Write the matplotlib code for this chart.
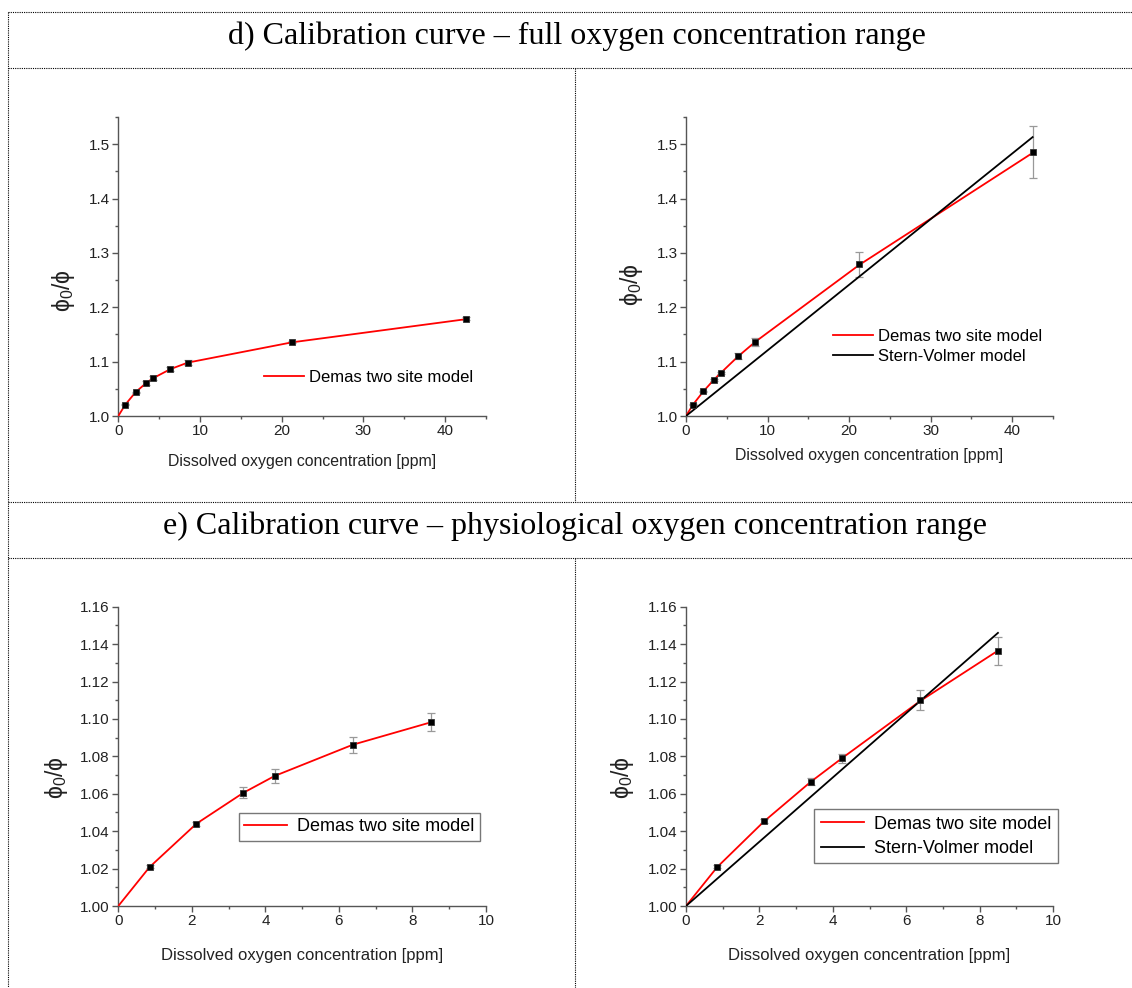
import matplotlib
matplotlib.use("Agg")
import matplotlib.pyplot as plt
from matplotlib.lines import Line2D

# dissolved oxygen levels [ppm]
x_full = [0.85, 2.125, 3.4, 4.25, 6.375, 8.5, 21.25, 42.5]
x_phys = [0.85, 2.125, 3.4, 4.25, 6.375, 8.5]

# d) left / e) left : measured phi0/phi and Demas fit
y_left = [1.0210, 1.0438, 1.0606, 1.0697, 1.0863, 1.0984, 1.1356, 1.1791]
err_left = [0.0008, 0.0012, 0.0030, 0.0037, 0.0043, 0.0050, 0.0020, 0.0030]
fit_x_left = [0, 0.85, 2.125, 3.4, 4.25, 6.375, 8.5, 21.25, 42.5]
fit_y_left = [1.0, 1.0208, 1.0440, 1.0605, 1.0695, 1.0862, 1.0982, 1.1355, 1.1780]

# d) right : measured values, Demas fit and Stern-Volmer fit
y_right = [1.0210, 1.0455, 1.0665, 1.0790, 1.1100, 1.1365, 1.2790, 1.4850]
err_right = [0.0008, 0.0010, 0.0020, 0.0025, 0.0053, 0.0075, 0.0235, 0.0480]
fit_x_right = [0, 0.85, 2.125, 3.4, 4.25, 6.375, 8.5, 21.25, 42.5]
fit_y_right = [1.0, 1.0208, 1.0452, 1.0664, 1.0790, 1.1095, 1.1365, 1.2780, 1.4840]
sv_x_full = [0, 42.5]
sv_y_full = [1.0, 1.513]

# e) right : physiological range fits
fit_x_phys = [0, 0.85, 2.125, 3.4, 4.25, 6.375, 8.5]
fit_y_phys = [1.0, 1.0208, 1.0452, 1.0664, 1.0790, 1.1095, 1.1365]
sv_x_phys = [0, 8.5]
sv_y_phys = [1.0, 1.146]

xlabel = "Dissolved oxygen concentration [ppm]"
ylabel = r"$\mathregular{\phi_0/\phi}$"
demas_label = "Demas two site model"
sv_label = "Stern-Volmer model"

W, H = 1132, 988
plt.rcParams['font.family'] = ['Liberation Sans', 'DejaVu Sans']
plt.rcParams['mathtext.fontset'] = 'custom'
plt.rcParams['mathtext.rm'] = 'Liberation Sans'
plt.rcParams['mathtext.it'] = 'Liberation Sans'

fig = plt.figure(figsize=(W / 100, H / 100), dpi=100)


def px_axes(left, top, right, bottom):
    return fig.add_axes([left / W, 1 - bottom / H, (right - left) / W, (bottom - top) / H])


def style(ax, xmax, xmajor, xminor, ymin, ymax, ymajor, yminor, yfmt):
    for s in ['top', 'right']:
        ax.spines[s].set_visible(False)
    for s in ['left', 'bottom']:
        ax.spines[s].set_color('#555555')
        ax.spines[s].set_linewidth(1.0)
    ax.set_xlim(0, xmax)
    ax.set_ylim(ymin, ymax)
    ax.set_xticks([i * xmajor for i in range(int(round(xmax / xmajor)) + 1) if i * xmajor <= xmax])
    ax.set_xticks([i * xminor for i in range(int(round(xmax / xminor)) + 1)], minor=True)
    n = int(round((ymax - ymin) / ymajor))
    ax.set_yticks([ymin + i * ymajor for i in range(n + 1) if ymin + i * ymajor <= ymax + 1e-9])
    m = int(round((ymax - ymin) / yminor))
    ax.set_yticks([ymin + i * yminor for i in range(m + 1)], minor=True)
    ax.yaxis.set_major_formatter(matplotlib.ticker.FormatStrFormatter(yfmt))
    ax.tick_params(which='major', direction='out', length=4, width=1, color='#555555',
                   labelsize=11, labelcolor='#222222', pad=2)
    ax.tick_params(which='minor', direction='out', length=2.5, width=1, color='#555555')


def points(ax, x, y, e):
    ax.errorbar(x, y, yerr=e, fmt='none', ecolor='#999999', elinewidth=0.9, capsize=2.8,
                capthick=0.9, zorder=2)
    ax.plot(x, y, 's', ms=3.8, color='black', mec='#333333', mew=0.6, zorder=4)


def set_ylab(ax, cx, cy):
    ax.set_ylabel(ylabel, fontsize=16.5, color='#222222')
    ax.yaxis.label.set_verticalalignment('center')
    ax.yaxis.set_label_coords(cx, cy)


# d) left
ax1 = px_axes(118.3, 117, 486, 416)
style(ax1, 45, 10, 5, 1.0, 1.55, 0.1, 0.05, '%.1f')
points(ax1, x_full, y_left, err_left)
l1, = ax1.plot(fit_x_left, fit_y_left, color='#ff0000', lw=1.3, zorder=3, label=demas_label)
ax1.set_xlabel(xlabel, fontsize=11.4, labelpad=11, color='#222222')
set_ylab(ax1, -0.15, 0.42)
fig.legend(handles=[l1], loc='center left', bbox_to_anchor=(264 / W, 1 - 377 / H),
           frameon=False, fontsize=12, borderpad=0, borderaxespad=0,
           handlelength=2.4, handletextpad=0.3)

# d) right
ax2 = px_axes(686, 117, 1053, 416)
style(ax2, 45, 10, 5, 1.0, 1.55, 0.1, 0.05, '%.1f')
points(ax2, x_full, y_right, err_right)
l2, = ax2.plot(fit_x_right, fit_y_right, color='#ff0000', lw=1.3, zorder=3, label=demas_label)
s2, = ax2.plot(sv_x_full, sv_y_full, color='black', lw=1.3, zorder=3, label=sv_label)
ax2.set_xlabel(xlabel, fontsize=11.4, labelpad=7, color='#222222')
set_ylab(ax2, -0.148, 0.44)
fig.legend(handles=[l2, s2], loc='center left', bbox_to_anchor=(833 / W, 1 - 346 / H),
           frameon=False, fontsize=12, borderpad=0, borderaxespad=0,
           handlelength=2.4, handletextpad=0.3, labelspacing=0.3)

# e) left
ax3 = px_axes(118.3, 606.7, 486, 906)
style(ax3, 10, 2, 1, 1.0, 1.16, 0.02, 0.01, '%.2f')
points(ax3, x_phys, y_left[:6], err_left[:6])
l3, = ax3.plot(fit_x_left[:7], fit_y_left[:7], color='#ff0000', lw=1.3, zorder=3, label=demas_label)
ax3.set_xlabel(xlabel, fontsize=12, labelpad=14, color='#222222')
set_ylab(ax3, -0.1675, 0.43)
fig.legend(handles=[l3], loc='upper left', bbox_to_anchor=(238.7 / W, 1 - 812.7 / H),
           frameon=True, fancybox=False, edgecolor='#555555', fontsize=13, borderpad=0.3,
           borderaxespad=0, handlelength=2.4, handletextpad=0.55)

# e) right
ax4 = px_axes(686, 606.7, 1053, 906)
style(ax4, 10, 2, 1, 1.0, 1.16, 0.02, 0.01, '%.2f')
points(ax4, x_phys, y_right[:6], err_right[:6])
l4, = ax4.plot(fit_x_phys, fit_y_phys, color='#ff0000', lw=1.3, zorder=3, label=demas_label)
s4, = ax4.plot(sv_x_phys, sv_y_phys, color='black', lw=1.3, zorder=3, label=sv_label)
ax4.set_xlabel(xlabel, fontsize=12, labelpad=14, color='#222222')
set_ylab(ax4, -0.172, 0.43)
fig.legend(handles=[l4, s4], loc='upper left', bbox_to_anchor=(814.3 / W, 1 - 809.3 / H),
           frameon=True, fancybox=False, edgecolor='#555555', fontsize=13, borderpad=0.35,
           borderaxespad=0, handlelength=2.4, handletextpad=0.55, labelspacing=0.4)

# table frame (dotted) and section titles
def hline(y, x0=8, x1=W):
    fig.add_artist(Line2D([x0 / W, x1 / W], [1 - y / H, 1 - y / H], transform=fig.transFigure,
                          color='black', lw=0.8, ls=(0, (1, 1))))


def vline(x, y0, y1):
    fig.add_artist(Line2D([x / W, x / W], [1 - y0 / H, 1 - y1 / H], transform=fig.transFigure,
                          color='black', lw=0.8, ls=(0, (1, 1))))


for y in [12, 68, 502, 558]:
    hline(y)
vline(8, 12, H)
vline(575, 68, 502)
vline(575, 558, H)

fig.text(577 / W, 1 - 44 / H, "d) Calibration curve \u2013 full oxygen concentration range",
         ha='center', va='baseline', fontsize=23, family='Liberation Serif')
fig.text(575 / W, 1 - 534 / H, "e) Calibration curve \u2013 physiological oxygen concentration range",
         ha='center', va='baseline', fontsize=23, family='Liberation Serif')

fig.savefig("out.png", dpi=100)
